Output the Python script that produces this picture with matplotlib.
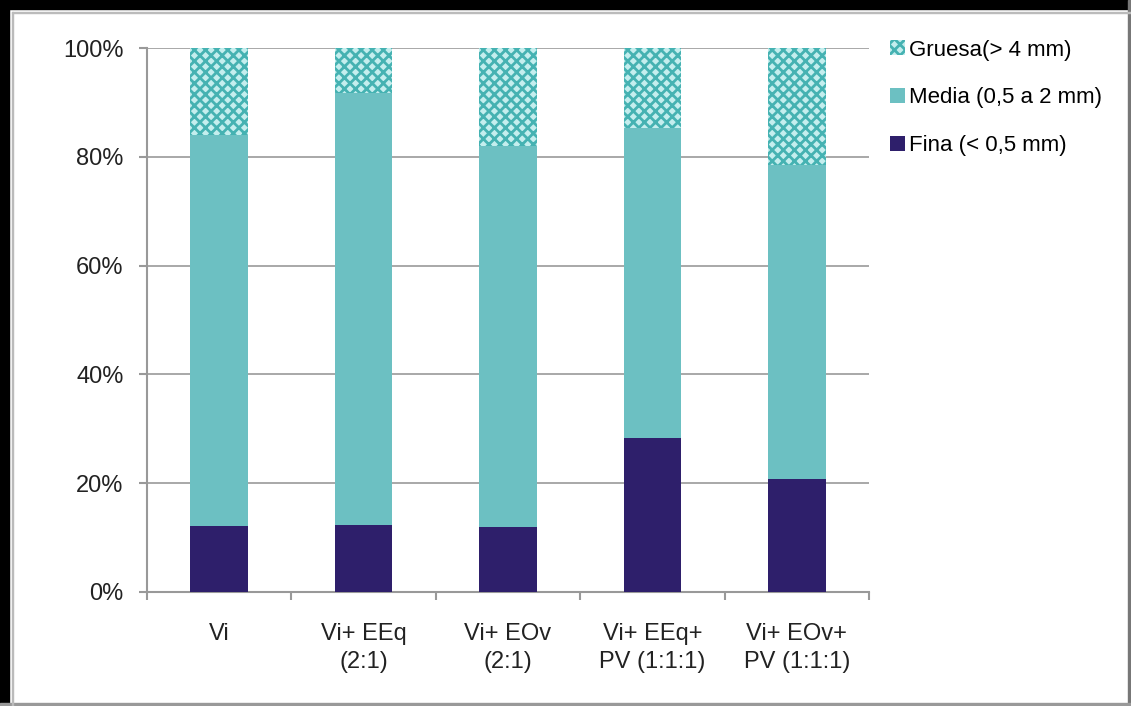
import numpy as np
import matplotlib.pyplot as plt
from matplotlib.patches import Rectangle
from matplotlib.ticker import PercentFormatter

plt.rcParams['font.family'] = ['Liberation Sans', 'DejaVu Sans']
plt.rcParams['hatch.linewidth'] = 2.0

categorias = ['Vi', 'Vi+ EEq\n(2:1)', 'Vi+ EOv\n(2:1)', 'Vi+ EEq+\nPV (1:1:1)', 'Vi+ EOv+\nPV (1:1:1)']
fina = [12.2, 12.3, 11.9, 28.3, 20.8]
media = [71.8, 79.4, 70.1, 57.0, 57.7]
gruesa = [100 - f - m for f, m in zip(fina, media)]

fig = plt.figure(figsize=(11.31, 7.06), dpi=100)
ax = fig.add_axes([147/1131, 1 - 592/706, 722/1131, 544/706])

x = np.arange(len(categorias))
w = 0.4
ax.bar(x, fina, w, color='#2e1f6b', label='Fina (< 0,5 mm)', zorder=3)
ax.bar(x, media, w, bottom=fina, color='#6cc0c2', label='Media (0,5 a 2 mm)', zorder=3)
ax.bar(x, gruesa, w, bottom=np.add(fina, media), color='#c4eeee', edgecolor='#45b2b2',
       hatch='xxx', linewidth=0, label='Gruesa(> 4 mm)', zorder=3)

ax.set_xlim(-0.5, len(categorias) - 0.5)
ax.set_ylim(0, 100)
ax.set_yticks(np.arange(0, 101, 20))
ax.yaxis.set_major_formatter(PercentFormatter(decimals=0))
ax.set_xticks(x)
ax.set_xticklabels(categorias, fontsize=17, color='#222222', linespacing=1.35)
ax.set_xticks(np.arange(-0.5, len(categorias)), minor=True)
ax.tick_params(axis='x', which='major', length=0, pad=22)
ax.tick_params(axis='x', which='minor', length=6, color='#999999', width=1.5, direction='out')
ax.tick_params(axis='y', length=6, color='#999999', width=1.5, labelsize=17, labelcolor='#222222', pad=11)
ax.grid(axis='y', color='#999999', linewidth=1.2, zorder=0)
for s in ['top', 'right']:
    ax.spines[s].set_visible(False)
for s in ['left', 'bottom']:
    ax.spines[s].set_color('#999999')
    ax.spines[s].set_linewidth(1.5)

h, l = ax.get_legend_handles_labels()
ax.legend(h[::-1], l[::-1], loc='upper left', bbox_to_anchor=(1.002, 1.052), frameon=False,
          fontsize=16, handlelength=0.65, handleheight=0.65, handletextpad=0.2, labelspacing=1.2)

# marco de la figura
fig.patches.append(Rectangle((0, 0), 1, 1, transform=fig.transFigure, fill=False,
                             edgecolor='#cccccc', linewidth=1.5, zorder=0))
fig.patches.append(Rectangle((0, 0), 9/1131, 1, transform=fig.transFigure, color='black', zorder=5))
fig.patches.append(Rectangle((0, 1 - 9/706), 1, 9/706, transform=fig.transFigure, color='black', zorder=5))
fig.patches.append(Rectangle((1 - 3/1131, 0), 3/1131, 1, transform=fig.transFigure, color='#777777', zorder=5))
fig.patches.append(Rectangle((0, 0), 1, 3/706, transform=fig.transFigure, color='#999999', zorder=5))
fig.patches.append(Rectangle((12/1131, 0), 1/1131, 1 - 12/706, transform=fig.transFigure, color='#bbbbbb', zorder=5))
fig.patches.append(Rectangle((12/1131, 1 - 13/706), 1 - 12/1131, 1/706, transform=fig.transFigure, color='#bbbbbb', zorder=5))

fig.savefig('out.png', dpi=100)
